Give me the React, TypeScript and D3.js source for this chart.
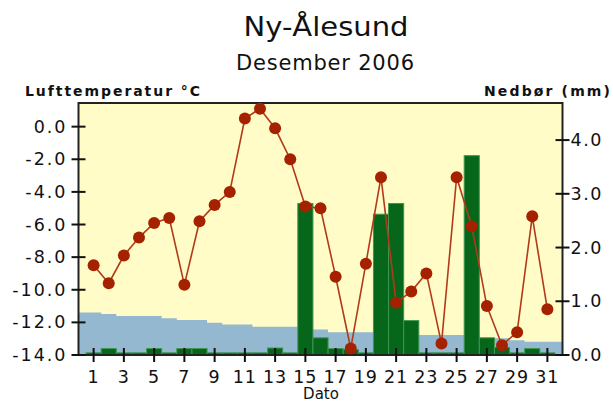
import React from "react";
import * as d3 from "d3";

const days = d3.range(1, 32);
const temperature = [-8.5, -9.6, -7.9, -6.8, -5.9, -5.6, -9.7, -5.8, -4.8, -4.0, 0.5, 1.1, -0.1, -2.0, -4.9, -5.0, -9.2, -13.6, -8.4, -3.1, -10.8, -10.1, -9.0, -13.3, -3.1, -6.1, -11.0, -13.4, -12.6, -5.5, -11.2];
const precipitation = [0.04, 0.12, 0.04, 0.04, 0.12, 0.04, 0.12, 0.12, 0.04, 0.04, 0.04, 0.04, 0.13, 0.04, 2.82, 0.32, 0.12, 0.1, 0.04, 2.62, 2.82, 0.64, 0.04, 0.04, 0.04, 3.71, 0.32, 0.14, 0.04, 0.12, 0.04];
const normalTemp = [-11.39, -11.49, -11.61, -11.61, -11.61, -11.74, -11.86, -11.86, -12.02, -12.13, -12.13, -12.27, -12.27, -12.27, -12.35, -12.43, -12.61, -12.61, -12.61, -12.7, -12.7, -12.78, -12.78, -12.78, -12.78, -12.88, -12.98, -12.98, -13.1, -13.19, -13.19];
const leftTicks = [0, -2, -4, -6, -8, -10, -12, -14];
const rightTicks = [4, 3, 2, 1, 0];
const xTicks = [1, 3, 5, 7, 9, 11, 13, 15, 17, 19, 21, 23, 25, 27, 29, 31];

const title = "Ny-Ålesund";
const subtitle = "Desember 2006";
const leftTitle = "Lufttemperatur °C";
const rightTitle = "Nedbør (mm)";
const xTitle = "Dato";

export default function App() {
  const L = 78.5, R = 562.5, T = 103, B = 355;
  const x = d3.scaleLinear().domain([0, 32]).range([L, R]);
  const yT = d3.scaleLinear().domain([-14, 1.45]).range([B, T]);
  const yP = d3.scaleLinear().domain([0, 4.69]).range([B, T]);
  const bw = x(1) - x(0);

  const normPts: [number, number][] = [
    [0, normalTemp[0]],
    ...days.map((d, i) => [d, normalTemp[i]] as [number, number]),
    [32, normalTemp[normalTemp.length - 1]],
  ];
  const area = d3
    .area<[number, number]>()
    .x((d) => x(d[0]))
    .y0(B)
    .y1((d) => yT(d[1]))
    .curve(d3.curveStep)(normPts) as string;

  const line = d3
    .line<number>()
    .x((_, i) => x(days[i]))
    .y((d) => yT(d))(temperature) as string;

  const font = "'DejaVu Sans', Verdana, sans-serif";

  return (
    <svg
      width={613}
      height={403}
      style={{ position: "absolute", left: 0, top: 0, background: "#fff" }}
      fontFamily={font}
    >
      <text x={326} y={36} textAnchor="middle" fontSize={27} fill="#111" textLength={165} lengthAdjust="spacingAndGlyphs">{title}</text>
      <text x={325} y={70} textAnchor="middle" fontSize={21} fill="#111" textLength={178} lengthAdjust="spacing">{subtitle}</text>
      <text x={25} y={96} fontSize={14} fontWeight="bold" fill="#111" textLength={175} lengthAdjust="spacing">{leftTitle}</text>
      <text x={484} y={96} fontSize={14} fontWeight="bold" fill="#111" textLength={126} lengthAdjust="spacing">{rightTitle}</text>

      <rect x={L} y={T} width={R - L} height={B - T} fill="#fffcc8" />
      <path d={area} fill="#93b8cf" />

      {days.map((d, i) => (
        <rect
          key={"b" + d}
          x={x(d - 0.5)}
          y={yP(precipitation[i])}
          width={bw}
          height={B - yP(precipitation[i])}
          fill="#06661a"
          stroke="#3f9650"
          strokeWidth={1}
        />
      ))}

      <rect x={L} y={T} width={R - L} height={B - T} fill="none" stroke="#222" strokeWidth={2} />

      {leftTicks.map((t) => (
        <g key={"l" + t}>
          <line x1={L - 7} x2={L + 7} y1={yT(t)} y2={yT(t)} stroke="#111" strokeWidth={2} />
          <text x={L - 11} y={yT(t) + 6} textAnchor="end" fontSize={17.5} letterSpacing={2} fill="#111">
            {t.toFixed(1)}
          </text>
        </g>
      ))}
      {rightTicks.map((t) => (
        <g key={"r" + t}>
          <line x1={R - 7} x2={R + 7} y1={yP(t)} y2={yP(t)} stroke="#111" strokeWidth={2} />
          <text x={R + 8} y={yP(t) + 6} textAnchor="start" fontSize={17.5} letterSpacing={1.5} fill="#111">
            {t.toFixed(1)}
          </text>
        </g>
      ))}
      {xTicks.map((t) => (
        <g key={"x" + t}>
          <line x1={x(t)} x2={x(t)} y1={B - 7} y2={B + 7} stroke="#111" strokeWidth={2} />
          <text x={x(t)} y={383} textAnchor="middle" fontSize={17.5} letterSpacing={1} fill="#111">
            {t}
          </text>
        </g>
      ))}
      <text x={321} y={399} textAnchor="middle" fontSize={15} fill="#111">{xTitle}</text>

      <path d={line} fill="none" stroke="#b33a18" strokeWidth={1.6} />
      {days.map((d, i) => (
        <circle key={"m" + d} cx={x(d)} cy={yT(temperature[i])} r={6} fill="#a52200" />
      ))}
    </svg>
  );
}
